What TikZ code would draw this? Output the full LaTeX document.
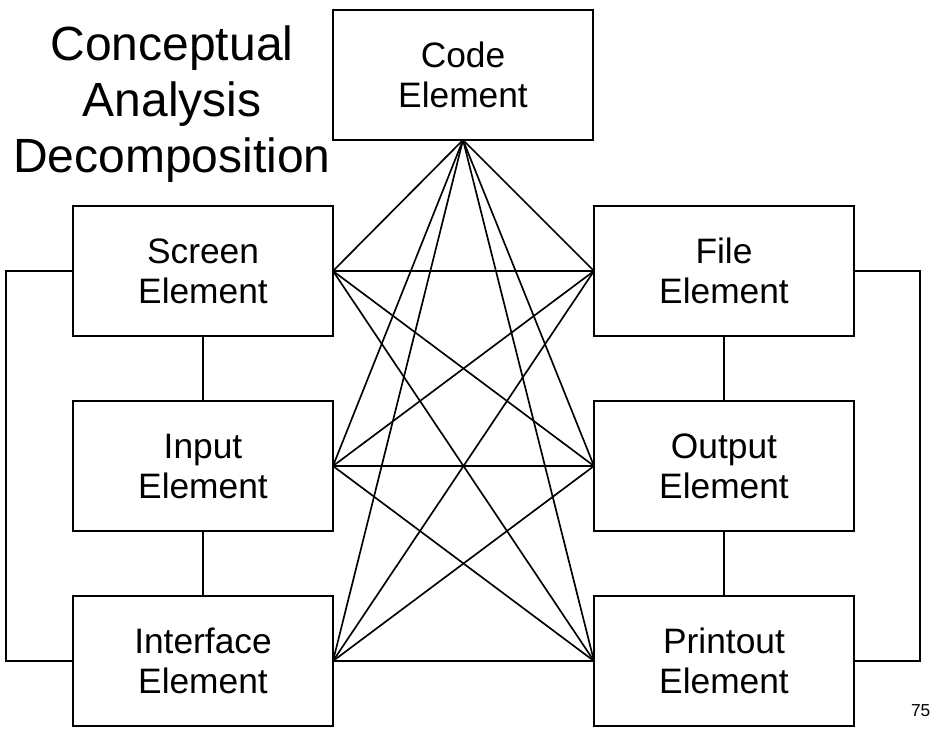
\documentclass[tikz,border=0pt]{standalone}
\usepackage{fontspec}
\setmainfont{Liberation Sans}
\usepackage{tikz}
\usetikzlibrary{positioning}

\begin{document}
\begin{tikzpicture}[node distance=48.75pt and 195.75pt, every node/.style={inner sep=0pt,outer sep=0pt}, box/.style={draw,line width=1.5pt,align=center,minimum width=195pt,minimum height=97.5pt,text depth=-6pt,font=\fontsize{26.5}{30}\selectfont}, link/.style={line width=1.25pt}]
\useasboundingbox (-152.25pt,-342.75pt) rectangle (551.25pt,203.25pt);
\node[box] (screen) at (0,0) {Screen\\Element};
\node[box,below=of screen] (input) {Input\\Element};
\node[box,below=of input] (interface) {Interface\\Element};
\node[box,right=of screen] (file) {File\\Element};
\node[box,right=of input] (output) {Output\\Element};
\node[box,right=of interface] (printout) {Printout\\Element};
\node[box,above right=49.5pt and 0pt of screen] (code) {Code\\Element};
\node[anchor=north,align=center,font=\fontsize{36}{42}\selectfont] (title) at (-23.25pt,183.75pt) {Conceptual\\Analysis\\Decomposition};
\node[font=\fontsize{13}{15}\selectfont] (pagenum) at ([xshift=50pt,yshift=-37pt]printout.east) {75};
% columns
\draw[link] (screen)--(input); \draw[link] (input)--(interface);
\draw[link] (file)--(output); \draw[link] (output)--(printout);
\draw[link] (screen.west)--++(-50pt,0)|-(interface.west);
\draw[link] (file.east)--++(49.5pt,0)|-(printout.east);
% code element to every box
\draw[link] (code.south)--(screen.east); \draw[link] (code.south)--(input.east); \draw[link] (code.south)--(interface.east);
\draw[link] (code.south)--(file.west); \draw[link] (code.south)--(output.west); \draw[link] (code.south)--(printout.west);
% left to right
\draw[link] (screen.east)--(file.west); \draw[link] (screen.east)--(output.west); \draw[link] (screen.east)--(printout.west);
\draw[link] (input.east)--(file.west); \draw[link] (input.east)--(output.west); \draw[link] (input.east)--(printout.west);
\draw[link] (interface.east)--(file.west); \draw[link] (interface.east)--(output.west); \draw[link] (interface.east)--(printout.west);
\end{tikzpicture}
\end{document}
